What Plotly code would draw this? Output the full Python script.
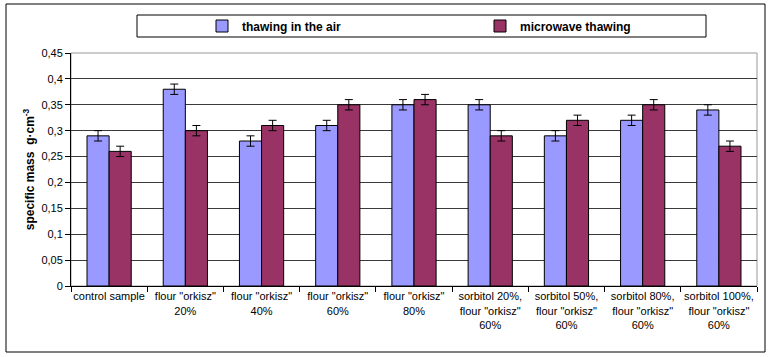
import plotly.graph_objects as go

categories = [
    "control sample",
    "flour \"orkisz\"<br>20%",
    "flour \"orkisz\"<br>40%",
    "flour \"orkisz\"<br>60%",
    "flour \"orkisz\"<br>80%",
    "sorbitol 20%,<br>flour \"orkisz\"<br>60%",
    "sorbitol 50%,<br>flour \"orkisz\"<br>60%",
    "sorbitol 80%,<br>flour \"orkisz\"<br>60%",
    "sorbitol 100%,<br>flour \"orkisz\"<br>60%",
]
air = [0.29, 0.38, 0.28, 0.31, 0.35, 0.35, 0.29, 0.32, 0.34]
microwave = [0.26, 0.30, 0.31, 0.35, 0.36, 0.29, 0.32, 0.35, 0.27]
air_err = [0.01] * 9
microwave_err = [0.01] * 9
tick_vals = [0, 0.05, 0.1, 0.15, 0.2, 0.25, 0.3, 0.35, 0.4, 0.45]
tick_text = ["0", "0,05", "0,1", "0,15", "0,2", "0,25", "0,3", "0,35", "0,4", "0,45"]

W, H = 770, 357
L, R, T, B = 71, 13, 53, 71
pw, ph = W - L - R, H - T - B

def px(x):
    return (x - L) / pw

def py(y):
    return (H - B - y) / ph

font = "Liberation Sans, Arial, sans-serif"

fig = go.Figure()
fig.add_trace(go.Bar(
    x=categories, y=air, name="thawing in the air", legend="legend",
    marker=dict(color="#9999FF", line=dict(color="#000000", width=1)),
    error_y=dict(type="data", array=air_err, color="#000000", thickness=1, width=4),
))
fig.add_trace(go.Bar(
    x=categories, y=microwave, name="microwave thawing", legend="legend2",
    marker=dict(color="#993366", line=dict(color="#000000", width=1)),
    error_y=dict(type="data", array=microwave_err, color="#000000", thickness=1, width=4),
))

leg_common = dict(
    orientation="h", yanchor="middle", y=py(26), xanchor="left",
    bgcolor="rgba(0,0,0,0)", borderwidth=0,
    font=dict(family=font, size=12, color="#000000", weight="bold"),
    itemwidth=30,
)

fig.update_layout(
    width=W, height=H,
    margin=dict(l=L, r=R, t=T, b=B, autoexpand=False),
    paper_bgcolor="white", plot_bgcolor="white",
    barmode="group", bargap=0.42, bargroupgap=0,
    font=dict(family=font, size=11, color="#000000"),
    showlegend=True,
    legend=dict(leg_common, x=px(202)),
    legend2=dict(leg_common, x=px(480)),
    xaxis=dict(
        showline=True, linecolor="#000000", linewidth=1,
        ticks="outside", tickson="boundaries", ticklen=5, tickcolor="#000000",
        tickfont=dict(family=font, size=11), tickangle=0,
        showgrid=False, automargin=False,
    ),
    yaxis=dict(
        range=[0, 0.45],
        tickvals=tick_vals, ticktext=tick_text,
        showline=True, linecolor="#000000", linewidth=1,
        ticks="outside", ticklen=5, tickcolor="#000000",
        tickfont=dict(family=font, size=11),
        showgrid=True, gridcolor="#3a3a3a", gridwidth=1,
        zeroline=False, automargin=False,
        title=dict(text="specific mass  g·cm<sup>-3</sup>",
                   font=dict(family=font, size=12, weight="bold"), standoff=4),
    ),
    shapes=[
        dict(type="rect", xref="paper", yref="paper",
             x0=px(6), x1=px(765), y0=py(352), y1=py(4),
             line=dict(color="#000000", width=1), layer="below"),
        dict(type="rect", xref="paper", yref="paper",
             x0=0, x1=1, y0=0, y1=1,
             line=dict(color="#999999", width=1), layer="below"),
        dict(type="rect", xref="paper", yref="paper",
             x0=px(137), x1=px(706), y0=py(37), y1=py(15),
             line=dict(color="#000000", width=1), layer="below"),
    ],
)

fig.write_html(
    "out.html",
    config={"displayModeBar": False},
    post_script="document.body.style.margin='0';document.body.style.padding='0';",
)
